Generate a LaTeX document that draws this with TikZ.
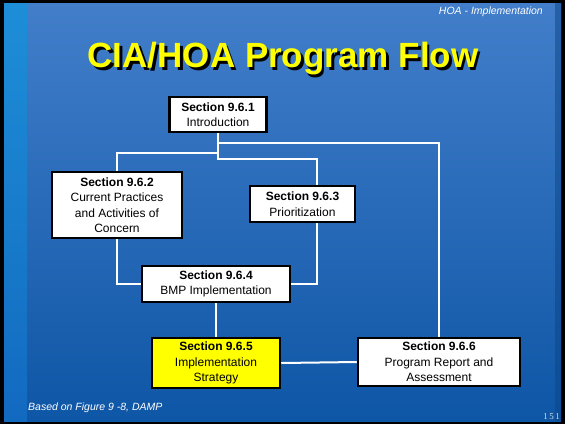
\documentclass[tikz,border=0pt]{standalone}
\usepackage{fontspec}
\setmainfont{Liberation Sans}
\newfontfamily\pagenumfont{Liberation Serif}
\definecolor{bgtop}{RGB}{66,126,202}
\definecolor{bgmid}{RGB}{50,148,216}
\definecolor{bgbot}{RGB}{14,86,166}
\definecolor{stripe}{RGB}{30,142,216}
\definecolor{stripebot}{RGB}{18,106,192}
\definecolor{slideyellow}{RGB}{255,255,0}

\begin{document}
\begin{tikzpicture}[x=1pt,y=-1pt,
  sec/.style={draw=black,line width=2.5pt,fill=white,align=center,
    font=\fontsize{12}{15.5}\selectfont,inner sep=0pt},
  link/.style={white,line width=2pt},
  note/.style={white,font=\fontsize{10.5}{12}\selectfont\itshape,inner sep=0pt}]
  \useasboundingbox (0,0) rectangle (565,424);
  % slide background
  \fill[black] (0,0) rectangle (565,424);
  \shade[top color=bgtop,middle color=bgmid,bottom color=bgbot] (4,3) rectangle (561,421);
  \shade[top color=stripe,bottom color=stripebot] (4,3) rectangle (27,421);
  \fill[bgbot!80!black,opacity=0.5] (555,3) rectangle (561,421);
  % header and title
  \node[note,anchor=east] (hdr) at (543,12) {HOA - Implementation};
  \node[slideyellow,font=\fontsize{35}{40}\selectfont\bfseries] (title) at (283,60)
    {\rlap{\hspace{2.5pt}\raisebox{-2.5pt}{\color{black}CIA/HOA Program Flow}}CIA/HOA Program Flow};
  % sections
  \node[sec,minimum width=97pt,minimum height=35pt] (s1) at (218,114.5) {\textbf{Section 9.6.1}\\Introduction};
  \node[sec,minimum width=130pt,minimum height=66pt] (s2) at (117,205) {\textbf{Section 9.6.2}\\Current Practices\\and Activities of\\Concern};
  \node[sec,minimum width=105pt,minimum height=36pt] (s3) at (302.5,204) {\textbf{Section 9.6.3}\\Prioritization};
  \node[sec,minimum width=148pt,minimum height=36pt] (s4) at (216,284) {\textbf{Section 9.6.4}\\BMP Implementation};
  \node[sec,fill=slideyellow,minimum width=128pt,minimum height=50pt] (s5) at (216,363) {\textbf{Section 9.6.5}\\Implementation\\Strategy};
  \node[sec,minimum width=162pt,minimum height=48pt] (s6) at (439,362) {\textbf{Section 9.6.6}\\Program Report and\\Assessment};
  % connectors
  \coordinate (tap3) at (317,159);
  \draw[link] (s1.south) |- (tap3) -- (tap3 |- s3.north);
  \draw[link] (s1.south) ++(0,20) -| (s2.north);
  \draw[link] (s1.south) ++(0,10) -| (s6.north);
  \draw[link] (s2.south) |- (s4.west);
  \draw[link] (tap3 |- s3.south) |- (s4.east);
  \draw[link] (s4.south) -- (s5.north);
  \draw[link] (s5.east) -- (s6.west);
  % footer
  \node[note,anchor=west] (src) at (28,408) {Based on Figure 9 -8, DAMP};
  \node[black!15,font=\fontsize{9}{10}\pagenumfont,anchor=east,inner sep=0pt] (pgno) at (560,417) {1\,5\,1};
\end{tikzpicture}
\end{document}
